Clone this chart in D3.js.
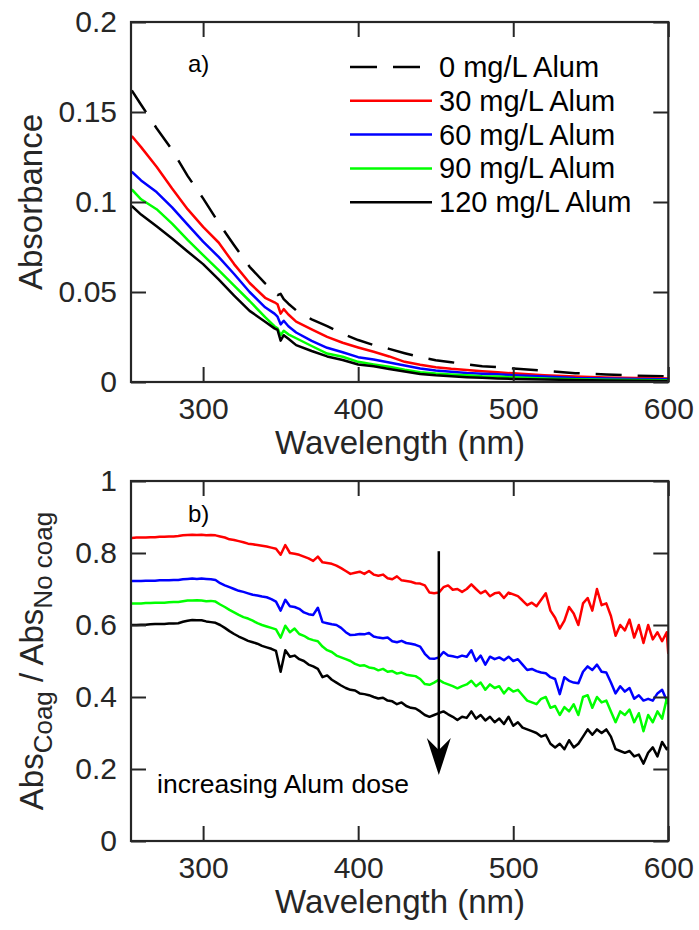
<!DOCTYPE html>
<html><head><meta charset="utf-8">
<script src="https://cdn.jsdelivr.net/npm/d3@7"></script>
<style>
body{margin:0;background:#fff}
svg{display:block}
text{font-family:"Liberation Sans",Arial,Helvetica,sans-serif}
</style>
</head><body>
<svg id="c" width="699" height="930"></svg>
<script>
// ---------------- DATA ----------------
const seriesNames = ["0 mg/L Alum","30 mg/L Alum","60 mg/L Alum","90 mg/L Alum","120 mg/L Alum"];
const seriesColors = ["#000000","#ff0000","#0000ff","#00ff00","#000000"];

// Panel a) absorbance spectra
const wlA = [254,260,270,280,290,300,310,320,330,340,346,348,350,352,355,360,370,380,390,400,410,420,430,440,450,460,470,480,490,500,520,540,560,580,600];
const abs0 = [0.162,0.154,0.141,0.129,0.1145,0.102,0.0885,0.076,0.064,0.0548,0.0505,0.0483,0.049,0.046,0.0435,0.0398,0.0348,0.031,0.0268,0.0233,0.0205,0.0184,0.016,0.0138,0.0121,0.011,0.0098,0.0088,0.0083,0.0075,0.0062,0.0049,0.0042,0.0035,0.0031];
const abs30 = [0.1367,0.1305,0.1196,0.1075,0.096,0.0862,0.0775,0.0655,0.055,0.0468,0.0443,0.0432,0.038,0.0405,0.0375,0.0335,0.0293,0.0251,0.0218,0.0192,0.0168,0.0142,0.0112,0.0096,0.0082,0.0073,0.0066,0.006,0.0054,0.0048,0.0038,0.0031,0.0025,0.0022,0.002];
const abs60 = [0.1168,0.112,0.1055,0.097,0.0874,0.078,0.0695,0.060,0.050,0.0415,0.038,0.0363,0.032,0.034,0.031,0.0275,0.0228,0.019,0.0165,0.0138,0.0125,0.0108,0.0092,0.0075,0.0064,0.0057,0.005,0.0046,0.0043,0.0038,0.003,0.0022,0.0019,0.0016,0.0015];
const abs90 = [0.107,0.1015,0.096,0.088,0.079,0.0705,0.0622,0.0535,0.045,0.036,0.031,0.0298,0.026,0.0285,0.0265,0.0243,0.020,0.0158,0.014,0.0112,0.0098,0.0085,0.0068,0.0054,0.0047,0.0042,0.0037,0.0032,0.003,0.0026,0.0019,0.0015,0.0013,0.0011,0.001];
const abs120 = [0.0978,0.093,0.0865,0.0797,0.0725,0.0655,0.057,0.048,0.0395,0.0335,0.0298,0.0289,0.023,0.026,0.024,0.0205,0.0172,0.0142,0.0122,0.0097,0.0087,0.0072,0.0058,0.0045,0.0037,0.0032,0.0027,0.0023,0.002,0.0017,0.0014,0.0011,0.0009,0.0007,0.0006];

// Panel b) ratio Abs_coag / Abs_no coag
const wlB = [254,257,260,263,266,269,272,275,278,281,
             284,287,290,293,296,299,302,305,308,311,
             314,317,320,323,326,329,332,335,338,341,
             344,347,350,353,356,359,362,365,368,371,
             374,377,380,383,386,389,392,395,398,401,
             404,407,410,413,416,419,422,425,428,431,
             434,437,440,443,446,449,452,455,458,461,
             464,467,470,473,476,479,482,485,488,491,
             494,497,500,503,506,509,512,515,518,521,
             524,527,530,533,536,539,542,545,548,551,
             554,557,560,563,566,569,572,575,578,581,
             584,587,590,593,596,599,600];
const ratio30 = [.842,.843,.843,.843,.844,.844,.845,.845,.846,.846,
                 .847,.849,.850,.851,.850,.851,.849,.850,.849,.846,
                 .843,.838,.836,.833,.830,.826,.824,.822,.820,.818,
                 .815,.812,.795,.822,.800,.798,.795,.790,.785,.778,
                 .790,.774,.772,.770,.765,.758,.750,.742,.745,.748,
                 .742,.750,.740,.737,.740,.730,.727,.735,.724,.722,
                 .720,.716,.715,.710,.690,.688,.690,.705,.710,.698,
                 .700,.692,.700,.713,.700,.688,.695,.680,.688,.690,
                 .675,.690,.685,.680,.668,.655,.662,.652,.670,.688,
                 .640,.620,.590,.612,.650,.632,.600,.660,.675,.640,
                 .700,.655,.660,.625,.570,.600,.585,.615,.565,.600,
                 .550,.600,.560,.580,.555,.580,.520];
const ratio60 = [.722,.722,.722,.723,.723,.723,.724,.724,.724,.725,
                 .725,.727,.728,.729,.728,.729,.728,.727,.725,.716,
                 .710,.705,.700,.695,.692,.688,.684,.682,.679,.677,
                 .672,.665,.640,.670,.652,.650,.645,.635,.630,.628,
                 .648,.608,.605,.602,.600,.592,.580,.572,.573,.575,
                 .574,.578,.568,.565,.563,.565,.555,.552,.556,.550,
                 .548,.545,.540,.520,.507,.506,.510,.525,.515,.513,
                 .510,.515,.512,.530,.500,.515,.490,.512,.505,.510,
                 .502,.512,.500,.505,.490,.475,.478,.472,.468,.466,
                 .455,.450,.408,.455,.445,.440,.438,.470,.485,.475,
                 .490,.470,.468,.440,.410,.430,.415,.425,.395,.405,
                 .390,.395,.390,.410,.420,.390,.400];
const ratio90 = [.660,.660,.660,.661,.661,.662,.662,.662,.663,.664,
                 .664,.666,.668,.668,.669,.668,.666,.667,.665,.657,
                 .650,.642,.635,.628,.622,.618,.612,.605,.600,.596,
                 .592,.588,.565,.598,.580,.590,.575,.570,.562,.558,
                 .555,.540,.530,.525,.515,.510,.505,.500,.492,.487,
                 .488,.482,.480,.474,.478,.470,.472,.465,.468,.462,
                 .460,.458,.450,.436,.434,.440,.448,.440,.435,.430,
                 .424,.430,.435,.445,.430,.440,.420,.435,.425,.430,
                 .410,.425,.415,.420,.405,.390,.385,.380,.395,.400,
                 .370,.375,.350,.372,.360,.380,.350,.400,.405,.370,
                 .400,.385,.390,.360,.330,.360,.350,.365,.330,.355,
                 .305,.350,.330,.360,.340,.395,.380];
const ratio120 = [.600,.600,.601,.601,.602,.603,.603,.603,.604,.604,
                  .605,.609,.612,.614,.613,.613,.610,.608,.606,.600,
                  .592,.583,.575,.568,.562,.556,.552,.548,.542,.538,
                  .534,.528,.470,.530,.512,.515,.505,.500,.490,.485,
                  .478,.455,.460,.448,.440,.432,.425,.420,.418,.410,
                  .408,.405,.400,.396,.398,.390,.388,.380,.385,.375,
                  .370,.368,.360,.350,.345,.350,.355,.360,.352,.345,
                  .336,.345,.342,.360,.340,.350,.335,.345,.330,.340,
                  .325,.345,.320,.330,.315,.310,.305,.300,.290,.295,
                  .270,.260,.270,.255,.280,.260,.270,.290,.310,.295,
                  .310,.300,.310,.290,.255,.250,.245,.250,.235,.240,
                  .215,.245,.260,.235,.275,.255,.260];

const xTicks = [300,400,500,600];
const xTickLabels = ["300","400","500","600"];
const yTicksA = [0,0.05,0.1,0.15,0.2];
const yTickLabelsA = ["0","0.05","0.1","0.15","0.2"];
const yTicksB = [0,0.2,0.4,0.6,0.8,1];
const yTickLabelsB = ["0","0.2","0.4","0.6","0.8","1"];
const xDomain = [253.5,600];
const arrowWl = 452, arrowFrom = 0.805, arrowTo = 0.183;

// ---------------- DRAW ----------------
const svg = d3.select("#c");
const AX = "#262626";
const L = 131, R = 668.3;

function panel(top, bottom, yDomain, yTicks, yLabels, clipId){
  const x = d3.scaleLinear().domain(xDomain).range([L,R]);
  const y = d3.scaleLinear().domain(yDomain).range([bottom,top]);
  const g = svg.append("g");
  g.append("clipPath").attr("id",clipId).append("rect")
    .attr("x",L).attr("y",top).attr("width",R-L).attr("height",bottom-top);
  const plot = g.append("g").attr("clip-path",`url(#${clipId})`);

  const fmtX = d => xTickLabels[xTicks.indexOf(d)];
  const fmtY = d => yLabels[yTicks.indexOf(d)];
  const axB = g.append("g").attr("transform",`translate(0,${bottom})`)
    .call(d3.axisBottom(x).tickValues(xTicks).tickFormat(fmtX).tickSizeInner(-15).tickSizeOuter(0).tickPadding(16));
  const axT = g.append("g").attr("transform",`translate(0,${top})`)
    .call(d3.axisTop(x).tickValues(xTicks).tickFormat("").tickSizeInner(-15).tickSizeOuter(0));
  const axL = g.append("g").attr("transform",`translate(${L},0)`)
    .call(d3.axisLeft(y).tickValues(yTicks).tickFormat(fmtY).tickSizeInner(-15).tickSizeOuter(0).tickPadding(14));
  const axR = g.append("g").attr("transform",`translate(${R},0)`)
    .call(d3.axisRight(y).tickValues(yTicks).tickFormat("").tickSizeInner(-15).tickSizeOuter(0));
  [axB,axT,axL,axR].forEach(a=>{
    a.select(".domain").remove();
    a.selectAll(".tick line").attr("stroke",AX).attr("stroke-width",2);
    a.selectAll("text").attr("font-size",30).attr("fill",AX)
      .attr("font-family",'"Liberation Sans",Arial,Helvetica,sans-serif');
  });
  g.append("rect").attr("x",L).attr("y",top).attr("width",R-L).attr("height",bottom-top)
    .attr("fill","none").attr("stroke",AX).attr("stroke-width",2.2);
  g.append("text").attr("x",400).attr("y",bottom+72).attr("text-anchor","middle")
    .attr("font-size",33).attr("fill",AX).text("Wavelength (nm)");
  return {x,y,g,plot};
}

// Panel a
const pa = panel(22,382,[0,0.2],yTicksA,yTickLabelsA,"clipA");
const seriesA = [abs0,abs30,abs60,abs90,abs120];
const lineA = d3.line().x(d=>pa.x(d[0])).y(d=>pa.y(d[1]));
seriesA.forEach((s,i)=>{
  pa.plot.append("path").datum(wlA.map((w,j)=>[w,s[j]]))
    .attr("d",lineA).attr("fill","none").attr("stroke",seriesColors[i])
    .attr("stroke-width",2.5).attr("stroke-linejoin","round")
    .attr("stroke-dasharray", i===0 ? "26,16" : null);
});
pa.g.append("text").attr("transform","translate(42,202) rotate(-90)").attr("text-anchor","middle")
  .attr("font-size",33).attr("fill",AX).text("Absorbance");
pa.g.append("text").attr("x",188).attr("y",72).attr("font-size",24).attr("fill","#000").text("a)");

// legend
const leg = pa.g.append("g");
seriesNames.forEach((n,i)=>{
  const yy = 67 + i*33.8;
  leg.append("line").attr("x1",350).attr("x2",432).attr("y1",yy).attr("y2",yy)
    .attr("stroke",seriesColors[i]).attr("stroke-width",2.5)
    .attr("stroke-dasharray", i===0 ? "27,16" : null);
  leg.append("text").attr("x",439).attr("y",yy+10).attr("font-size",29).attr("fill","#000").text(n);
});

// Panel b
const pb = panel(481,841,[0,1],yTicksB,yTickLabelsB,"clipB");
const seriesB = [ratio30,ratio60,ratio90,ratio120];
const lineB = d3.line().x(d=>pb.x(d[0])).y(d=>pb.y(d[1]));
seriesB.forEach((s,i)=>{
  if (s.length !== wlB.length) console.error("length mismatch", i, s.length, wlB.length);
  pb.plot.append("path").datum(wlB.map((w,j)=>[w,s[j]]))
    .attr("d",lineB).attr("fill","none").attr("stroke",seriesColors[i+1])
    .attr("stroke-width",2.5).attr("stroke-linejoin","round");
});
const yl = pb.g.append("text").attr("transform","translate(43,661) rotate(-90)").attr("text-anchor","middle")
  .attr("font-size",33).attr("fill",AX);
yl.append("tspan").text("Abs");
yl.append("tspan").attr("dy",9).attr("font-size",26).text("Coag");
yl.append("tspan").attr("dy",-9).text("\u00a0/ Abs");
yl.append("tspan").attr("dy",9).attr("font-size",26).text("No coag");
pb.g.append("text").attr("x",188).attr("y",522).attr("font-size",24).attr("fill","#000").text("b)");
pb.g.append("text").attr("x",157).attr("y",793).attr("font-size",26.5).attr("fill","#000").text("increasing Alum dose");

// arrow
const ax = pb.x(arrowWl), ay0 = pb.y(arrowFrom), ay1 = pb.y(arrowTo);
pb.g.append("line").attr("x1",ax).attr("x2",ax).attr("y1",ay0).attr("y2",ay1-20)
  .attr("stroke","#000").attr("stroke-width",2.5);
pb.g.append("path")
  .attr("d",`M${ax-12},${ay1-37} L${ax},${ay1} L${ax+12},${ay1-37} L${ax},${ay1-25} Z`)
  .attr("fill","#000");
</script>
</body></html>
